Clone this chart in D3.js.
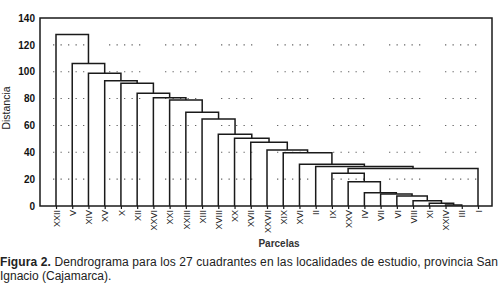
<!DOCTYPE html>
<html>
<head>
<meta charset="utf-8">
<script src="https://cdn.jsdelivr.net/npm/d3@7/dist/d3.min.js"></script>
<style>
  body { margin: 0; background: #fff; }
  svg { display: block; font-family: 'Liberation Sans', Arial, sans-serif; }
</style>
</head>
<body>
<div id="chart_svg"></div>
<script>
// leaf order along the x axis
const parcelas = ['XXII', 'V', 'XIV', 'XV', 'X', 'XII', 'XXVI', 'XXI', 'XXIII', 'XIII', 'XVIII', 'XX',
  'XVII', 'XXVII', 'XIX', 'XVI', 'II', 'IX', 'XXV', 'IV', 'VII', 'VI', 'VIII', 'XI', 'XXIV', 'III', 'I']

// merge steps: node n<i> = joinA[i] + joinB[i] at distance joinDist[i]
const joinA = ['XXIV', 'XI', 'VIII', 'VI', 'VII', 'IV', 'XXV', 'IX', 'n7', 'II', 'XVI', 'XIX', 'XXVII',
  'XVII', 'XX', 'XVIII', 'XIII', 'XXIII', 'XXI', 'XXVI', 'XII', 'X', 'XV', 'XIV', 'V', 'XXII']
const joinB = ['III', 'n0', 'n1', 'n2', 'n3', 'n4', 'n5', 'n6', 'I', 'n8', 'n9', 'n10', 'n11',
  'n12', 'n13', 'n14', 'n15', 'n16', 'n17', 'n18', 'n19', 'n20', 'n21', 'n22', 'n23', 'n24']
const joinDist = [0.8, 2, 4, 7.4, 8.9, 9.9, 18, 24.3, 28, 29.5, 31, 39.7, 41.7,
  47.4, 50.4, 53.4, 64.8, 69.8, 78.9, 80.7, 83.9, 91.4, 93.3, 98.8, 106.2, 127.8]

const yTicks = [0, 20, 40, 60, 80, 100, 120, 140]
const gridTicks = [20, 40, 60, 80, 100, 120]

const yTitle = 'Distancia'
const xTitle = 'Parcelas'
const captionBold = 'Figura 2.'
const captionLine1 = ' Dendrograma para los 27 cuadrantes en las localidades de estudio, provincia San'
const captionLine2 = 'Ignacio (Cajamarca).'

class Dendrogram {
  constructor(args) {
    const def = {
      el: '#chart_svg',
      width: 500,
      height: 283,
      left: 40,
      right: 492,
      top: 18,
      bottom: 206,
      ink: '#1a1a1a'
    }
    Object.assign(this, def, args)
    this.initVis()
    this.nodes = this.wrangleData()
    this.drawGrid()
    this.drawTree()
    this.drawAxes()
    this.drawTexts()
  }

  initVis() {
    const vis = this
    vis.svg = d3.select(vis.el).append('svg')
      .attr('width', vis.width)
      .attr('height', vis.height)
      .attr('viewBox', `0 0 ${vis.width} ${vis.height}`)

    vis.xScale = d3.scalePoint().domain(parcelas).range([56, 478])
    vis.yScale = d3.scaleLinear().domain([0, 140]).range([vis.bottom, vis.top])
  }

  wrangleData() {
    const vis = this
    const byName = new Map()
    parcelas.forEach(p => byName.set(p, { name: p, x: vis.xScale(p), h: 0 }))
    return joinDist.map((h, i) => {
      const a = byName.get(joinA[i])
      const b = byName.get(joinB[i])
      const node = { name: 'n' + i, a, b, h, x: (a.x + b.x) / 2 }
      byName.set(node.name, node)
      return node
    })
  }

  drawGrid() {
    const vis = this
    vis.svg.append('g').selectAll('line')
      .data(gridTicks)
      .join('line')
      .attr('x1', 53)
      .attr('x2', 480)
      .attr('y1', d => vis.yScale(d))
      .attr('y2', d => vis.yScale(d))
      .attr('stroke', '#666')
      .attr('stroke-width', 1.1)
      .attr('stroke-dasharray', '1.3,6.2,1.3,6.2,1.3,6.2,1.3,6.2,1.3,24.7')
  }

  drawTree() {
    const vis = this
    const y = vis.yScale
    vis.svg.append('g').selectAll('path')
      .data(vis.nodes)
      .join('path')
      .attr('d', d => `M${d.a.x},${y(d.a.h)}V${y(d.h)}H${d.b.x}V${y(d.b.h)}`)
      .attr('fill', 'none')
      .attr('stroke', vis.ink)
      .attr('stroke-width', 1.5)

    vis.svg.append('rect')
      .attr('x', vis.left)
      .attr('y', vis.top)
      .attr('width', vis.right - vis.left)
      .attr('height', vis.bottom - vis.top)
      .attr('fill', 'none')
      .attr('stroke', vis.ink)
      .attr('stroke-width', 1.5)
  }

  drawAxes() {
    const vis = this
    const xAxis = vis.svg.append('g')
      .attr('transform', `translate(0,${vis.bottom})`)
      .call(d3.axisBottom(vis.xScale).tickSize(3).tickSizeOuter(0))
    xAxis.select('.domain').remove()
    xAxis.selectAll('line').attr('stroke', vis.ink).attr('stroke-width', 1.2)
    xAxis.selectAll('text')
      .attr('transform', 'rotate(-90)')
      .attr('text-anchor', 'end')
      .attr('x', -4)
      .attr('y', 0)
      .attr('dy', '0.35em')
      .attr('fill', '#222')
      .style('font-size', '9px')
      .style('font-family', "'Liberation Sans', Arial, sans-serif")

    const yAxis = vis.svg.append('g')
      .attr('transform', `translate(${vis.left},0)`)
      .call(d3.axisLeft(vis.yScale).tickValues(yTicks).tickSize(0).tickPadding(5))
    yAxis.select('.domain').remove()
    yAxis.selectAll('text')
      .attr('fill', '#111')
      .style('font-size', '10px')
      .style('font-weight', 'bold')
      .style('font-family', "'Liberation Sans', Arial, sans-serif")
  }

  drawTexts() {
    const vis = this
    vis.svg.append('text')
      .attr('transform', `translate(10,108) rotate(-90)`)
      .attr('text-anchor', 'middle')
      .attr('fill', '#222')
      .style('font-size', '10.5px')
      .text(yTitle)

    vis.svg.append('text')
      .attr('x', 279)
      .attr('y', 247)
      .attr('text-anchor', 'middle')
      .attr('fill', '#333')
      .style('font-size', '10px')
      .style('font-weight', 'bold')
      .text(xTitle)

    const cap = vis.svg.append('text')
      .attr('x', 0)
      .attr('y', 266)
      .attr('fill', '#222')
      .attr('textLength', 498)
      .attr('lengthAdjust', 'spacing')
      .style('font-size', '12px')
    cap.append('tspan').style('font-weight', 'bold').text(captionBold)
    cap.append('tspan').text(captionLine1)

    vis.svg.append('text')
      .attr('x', 0)
      .attr('y', 280)
      .attr('fill', '#222')
      .style('font-size', '12px')
      .text(captionLine2)
  }
}

new Dendrogram({})
</script>
</body>
</html>
